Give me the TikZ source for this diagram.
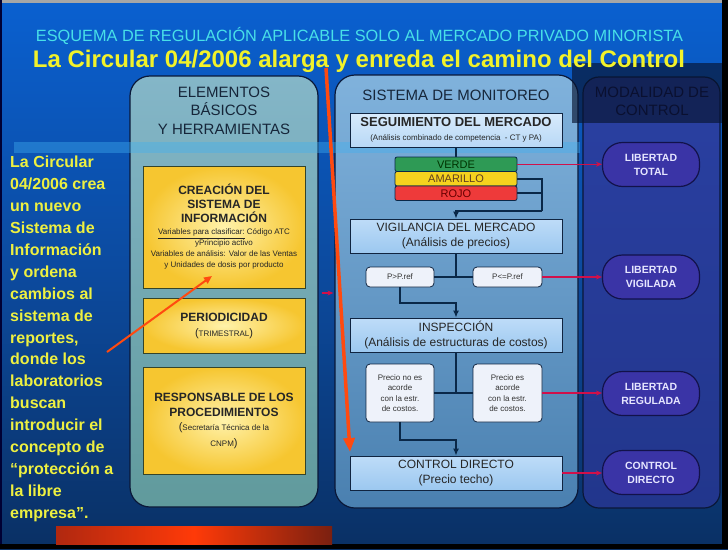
\documentclass[tikz,border=0pt]{standalone}
\usepackage{fontspec}
\setmainfont{Liberation Sans}
\usepackage{graphicx}
\usetikzlibrary{arrows.meta,calc,positioning}
\definecolor{bgtop}{HTML}{0A60D0}
\definecolor{bgmid}{HTML}{0C4A9E}
\definecolor{bgbot}{HTML}{0A3064}
\definecolor{col1top}{HTML}{84B6C8}
\definecolor{col1bot}{HTML}{609A9C}
\definecolor{col2top}{HTML}{80B2DC}
\definecolor{col2bot}{HTML}{4A80B0}
\definecolor{col3top}{HTML}{2A40A2}
\definecolor{col3bot}{HTML}{22368C}
\definecolor{navyline}{HTML}{0A1838}
\definecolor{coltext}{HTML}{16263A}
\definecolor{navytext}{HTML}{0A1030}
\definecolor{bandlight}{HTML}{40B0F0}
\definecolor{banddark}{HTML}{081430}
\definecolor{yelin}{HTML}{FFF2AA}
\definecolor{yelout}{HTML}{F6C630}
\definecolor{ylborder}{HTML}{34442A}
\definecolor{segtop}{HTML}{D8EBFC}
\definecolor{segbot}{HTML}{B8D8F6}
\definecolor{boxtop}{HTML}{BEDCF8}
\definecolor{boxbot}{HTML}{9CC8F0}
\definecolor{boxline}{HTML}{102440}
\definecolor{palebox}{HTML}{EEF2FA}
\definecolor{verde}{HTML}{2E9A55}
\definecolor{amarillo}{HTML}{F5D21E}
\definecolor{rojo}{HTML}{EE3A3A}
\definecolor{ovfill}{HTML}{3A34A6}
\definecolor{ovline}{HTML}{12124A}
\definecolor{ovtext}{HTML}{E6E6FF}
\definecolor{crimson}{HTML}{D0104A}
\definecolor{connc}{HTML}{0A2848}
\definecolor{flecha}{HTML}{FF4A10}
\definecolor{cyantitle}{HTML}{48E0E8}
\definecolor{yeltitle}{HTML}{F2F22A}
\definecolor{yeltext}{HTML}{EEF040}
\definecolor{barhot}{HTML}{FF3A08}
\definecolor{barleft}{HTML}{B02810}
\definecolor{barright}{HTML}{7A2010}
\newcommand{\ybf}{\bfseries\fontsize{12}{14}\selectfont}
\newcommand{\bigparen}[1]{{\fontsize{11}{13}\selectfont(}#1{\fontsize{11}{13}\selectfont)}}

\begin{document}
\begin{tikzpicture}[x=1pt,y=-1pt,
	colbox/.style={draw=navyline, line width=1.2pt, rounded corners=20pt, inner sep=0pt},
	coltitle/.style={text=coltext, align=center, font=\fontsize{15}{18.5}\selectfont},
	ybox/.style={draw=ylborder, line width=1pt, inner color=yelin, outer color=yelout, minimum width=162, inner sep=0pt, align=center, text=black!85, font=\fontsize{8}{11}\selectfont},
	bbox/.style={draw=boxline, line width=0.8pt, top color=boxtop, bottom color=boxbot, minimum width=212, minimum height=34, inner sep=0pt, align=center, text=black!85, font=\fontsize{12}{14.5}\selectfont},
	bar/.style={draw=connc, line width=0.8pt, rounded corners=2pt, minimum width=122, minimum height=14.5, inner sep=0pt, font=\fontsize{11}{11}\selectfont},
	wbox/.style={draw=boxline, line width=0.8pt, fill=palebox, rounded corners=4pt, inner sep=0pt, align=center, text=black!80, font=\fontsize{8}{10.5}\selectfont},
	oval/.style={draw=ovline, line width=1.2pt, fill=ovfill, rounded corners=20pt, minimum width=97, minimum height=44, inner sep=0pt, align=center, text=ovtext, font=\bfseries\fontsize{10.5}{14}\selectfont},
	conn/.style={draw=connc, line width=1.8pt},
	connarrow/.style={conn, -{Latex[length=7pt,width=6pt]}},
	redline/.style={draw=crimson, line width=1.2pt, -{Stealth[length=6pt,width=5pt]}},
	bigarrow/.style={draw=flecha, line width=3.5pt, -{Triangle[length=14pt,width=11pt]}},
	]
	\useasboundingbox (0,0) rectangle (728,549);
	\shade[top color=bgtop, bottom color=bgbot, middle color=bgmid] (0,0) rectangle (728,549);
	\fill[gray!70] (0,0) rectangle (728,3);
	\fill[black!80!blue] (0,0) rectangle (2,549);
	\fill[black] (722,0) rectangle (728,549);
	\fill[black] (0,544) rectangle (728,549);
	\shade[left color=barleft, right color=barright, middle color=barhot] (56,526) rectangle (332,544);

	\node[colbox, top color=col1top, bottom color=col1bot, minimum width=188, minimum height=431] (elem) at (224,291.5) {};
	\node[colbox, top color=col2top, bottom color=col2bot, minimum width=243, minimum height=433] (moni) at (456.5,291.5) {};
	\node[colbox, top color=col3top, bottom color=col3bot, minimum width=137, minimum height=431, rounded corners=16pt] (moda) at (651.5,292.5) {};

	\fill[bandlight, opacity=0.4] (14,142) rectangle (580,153);
	\fill[banddark, opacity=0.65] (572,63) rectangle (722,123);

	\node[text=cyantitle, font=\fontsize{14}{16}\selectfont] (sub) at (359.5,36) {\resizebox{647pt}{!}{ESQUEMA DE REGULACIÓN APLICABLE SOLO AL MERCADO PRIVADO MINORISTA}};
	\node[text=yeltitle, font=\bfseries\fontsize{22}{24}\selectfont] (titulo) at (359,61) {\resizebox{652pt}{!}{La Circular 04/2006 alarga y enreda el camino del Control}};

	\node[coltitle] (telem) at (224,110.5) {ELEMENTOS\\BÁSICOS\\Y HERRAMIENTAS};
	\node[coltitle] (tmoni) at (456,95) {SISTEMA DE MONITOREO};
	\node[coltitle, text=navytext] (tmoda) at (652,101.5) {MODALIDAD DE\\CONTROL};

	\node[anchor=north west, inner sep=0pt, align=left, text=yeltext, font=\bfseries\fontsize{16}{21.9}\selectfont] (nota) at (10,156) {La Circular\\04/2006 crea\\un nuevo\\Sistema de\\Información\\y ordena\\cambios al\\sistema de\\reportes,\\donde los\\laboratorios\\buscan\\introducir el\\concepto de\\“protección a\\la libre\\empresa”.};

	\node[ybox, minimum height=122] (crea) at (224,227) {{\ybf CREACIÓN DEL}\\[3pt]{\ybf SISTEMA DE}\\[3pt]{\ybf INFORMACIÓN}\\[1pt]\underline{Variables para clasificar:} Código ATC\\yPrincipio activo\\Variables de análisis: Valor de las Ventas\\y Unidades de dosis por producto};
	\node[ybox, minimum height=55, font=\ybf] (peri) at (224,325.5) {PERIODICIDAD\\[1pt]{\mdseries\bigparen{\fontsize{8}{10}\selectfont TRIMESTRAL}}};
	\node[ybox, minimum height=107, font=\ybf] (resp) at (224,420.5) {RESPONSABLE DE LOS\\[1pt]PROCEDIMIENTOS\\{\mdseries{\fontsize{11}{13}\selectfont(}{\fontsize{8}{10}\selectfont Secretaría Técnica de la}}\\[2pt]{\mdseries{\fontsize{8}{10}\selectfont CNPM}{\fontsize{11}{13}\selectfont)}}};

	\node[bbox, top color=segtop, bottom color=segbot] (segu) at (456,130) {{\bfseries\fontsize{13}{14.5}\selectfont SEGUIMIENTO DEL MERCADO}\\{\fontsize{8}{10}\selectfont(Análisis combinado de competencia \ - CT y PA)}};
	\node[bar, fill=verde, text=green!20!black] (verd) at (456,164.25) {VERDE};
	\node[bar, fill=amarillo, text=brown!50!black] (amar) at (456,178.75) {AMARILLO};
	\node[bar, fill=rojo, text=red!40!black] (rojo) at (456,193.25) {ROJO};
	\node[bbox] (vigi) at (456,236) {VIGILANCIA DEL MERCADO\\(Análisis de precios)};
	\node[wbox, minimum width=68, minimum height=20] (pmay) at (400,277) {P>P.ref};
	\node[wbox, minimum width=69, minimum height=20] (pmen) at (507.5,277) {P<=P.ref};
	\node[bbox] (insp) at (456,335) {INSPECCIÓN\\(Análisis de estructuras de costos)};
	\node[wbox, minimum width=68, minimum height=58] (pno) at (400,393) {Precio no es\\acorde\\con la estr.\\de costos.};
	\node[wbox, minimum width=69, minimum height=58] (psi) at (507.5,393) {Precio es\\acorde\\con la estr.\\de costos.};
	\node[bbox] (cdir) at (456,473) {CONTROL DIRECTO\\(Precio techo)};

	\node[oval] (ltot) at (651,164.5) {LIBERTAD\\TOTAL};
	\node[oval] (lvig) at (651,277) {LIBERTAD\\VIGILADA};
	\node[oval] (lreg) at (651,393.5) {LIBERTAD\\REGULADA};
	\node[oval] (ldir) at (651,472.5) {CONTROL\\DIRECTO};

	\coordinate (j1) at (542,211);
	\coordinate (j2) at (456,303);
	\coordinate (j3) at (456,440);
	\draw[conn] (segu.south) -- (verd.north);
	\draw[conn] (amar.east) -| (j1);
	\draw[conn] (rojo.east) -- (rojo.east -| j1);
	\draw[connarrow] (j1) -| (vigi.north);
	\draw[conn] (vigi.south) -- (vigi.south |- pmay.east);
	\draw[conn] (pmay.east) -- (pmen.west);
	\draw[connarrow] (pmay.south) |- (j2) -- (insp.north);
	\draw[conn] (insp.south) -- (insp.south |- pno.east);
	\draw[conn] (pno.east) -- (psi.west);
	\draw[connarrow] (pno.south) |- (j3) -- (cdir.north);

	\draw[redline] (verd.east) -- (verd.east -| ltot.west);
	\draw[redline] (pmen.east) -- (pmen.east -| lvig.west);
	\draw[redline] (psi.east) -- (psi.east -| lreg.west);
	\draw[redline] (cdir.east) -- (cdir.east -| ldir.west);
	\draw[redline, shorten <=3pt, shorten >=1pt] ([yshift=-1.5pt]elem.east) -- ([yshift=-1.5pt]moni.west);

	\coordinate (flA) at (107,352);
	\coordinate (flB) at (212,276);
	\draw[draw=flecha, line width=2pt, -{Triangle[length=8pt,width=7pt]}] (flA) -- (flB);
	\coordinate (ini) at (326,68);
	\coordinate (fin) at (350,452);
	\draw[bigarrow] (ini) -- (fin);
\end{tikzpicture}
\end{document}
